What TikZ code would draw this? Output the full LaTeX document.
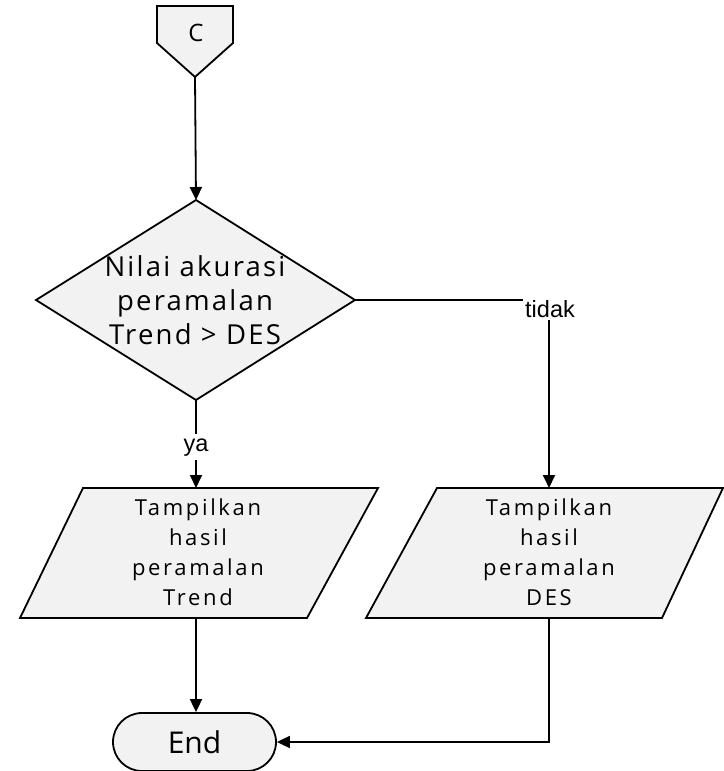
\documentclass[tikz,border=0pt]{standalone}
\usepackage{fontspec}
\setmainfont{Open Sans}
\newfontfamily\labelfont{Liberation Sans}
\newfontfamily\wideA[LetterSpace=8]{Open Sans}
\newfontfamily\wideB[LetterSpace=12]{Open Sans}
\usetikzlibrary{arrows.meta}
\definecolor{boxfill}{RGB}{242,242,242}
\tikzset{
  shapeline/.style={draw=black,line width=1.8pt,fill=boxfill,line join=miter},
  flow/.style={line width=1.8pt,-{Triangle[length=13pt,width=12pt]}},
  plain/.style={line width=1.8pt},
  bodytext/.style={align=center,inner sep=0pt},
  branch/.style={font=\labelfont\fontsize{23.5}{23.5}\selectfont,inner sep=0pt},
  terminal/.style={shapeline,rounded corners=29pt,minimum width=163pt,minimum height=58pt,inner sep=0pt,font=\fontsize{30}{30}\selectfont},
}
\begin{document}
\begin{tikzpicture}[x=1pt,y=-1pt]
\useasboundingbox (0,0) rectangle (723,771);

% off-page connector C
\draw[shapeline] (157,6) -- (233,6) -- (233,43) -- (195,77) -- (157,43) -- cycle;
\node[bodytext,font=\fontsize{24}{24}\selectfont] (conn) at (196,33) {C};
\coordinate (connTip) at (195,77);

% decision diamond
\draw[shapeline] (196,200) -- (355,300) -- (196,400) -- (36,300) -- cycle;
\coordinate (decTop) at (196,200);
\coordinate (decRight) at (355,300);
\coordinate (decBottom) at (196,400);
\node[bodytext,font=\wideA\fontsize{27.5}{34}\selectfont] (dec) at (195,300)
  {Nilai akurasi\\peramalan\\Trend > DES};

% output: Trend
\draw[shapeline] (83,488) -- (378,488) -- (307,618) -- (20,618) -- cycle;
\coordinate (trendTop) at (196,488);
\coordinate (trendBottom) at (196,618);
\node[bodytext,font=\wideB\fontsize{22}{30}\selectfont] (trend) at (198,552)
  {Tampilkan\\hasil\\peramalan\\Trend};

% output: DES
\draw[shapeline] (437,488) -- (723,488) -- (662,618) -- (366,618) -- cycle;
\coordinate (desTop) at (549,488);
\coordinate (desBottom) at (549,618);
\node[bodytext,font=\wideB\fontsize{22}{30}\selectfont] (des) at (549,552)
  {Tampilkan\\hasil\\peramalan\\DES};

% terminal
\node[terminal] (end) at (194.5,742) {End};

% branch labels
\node[branch,anchor=base] (ya) at (196,451) {ya};
\node[branch,anchor=base] (tidak) at (550,317) {tidak};

% connectors
\draw[flow] (connTip) -- (decTop);
\draw[plain] (decBottom) -- ([yshift=4pt]ya.north);
\draw[flow] ([yshift=-4pt]ya.south) -- (trendTop);
\draw[plain] (decRight) -- ([xshift=-2pt]decRight -| tidak.west);
\draw[flow] ([yshift=-3pt]tidak.south -| desTop) -- (desTop);
\draw[flow] (trendBottom) -- (end.north -| trendBottom);
\draw[flow] (desBottom) |- (end.east);
\end{tikzpicture}
\end{document}
